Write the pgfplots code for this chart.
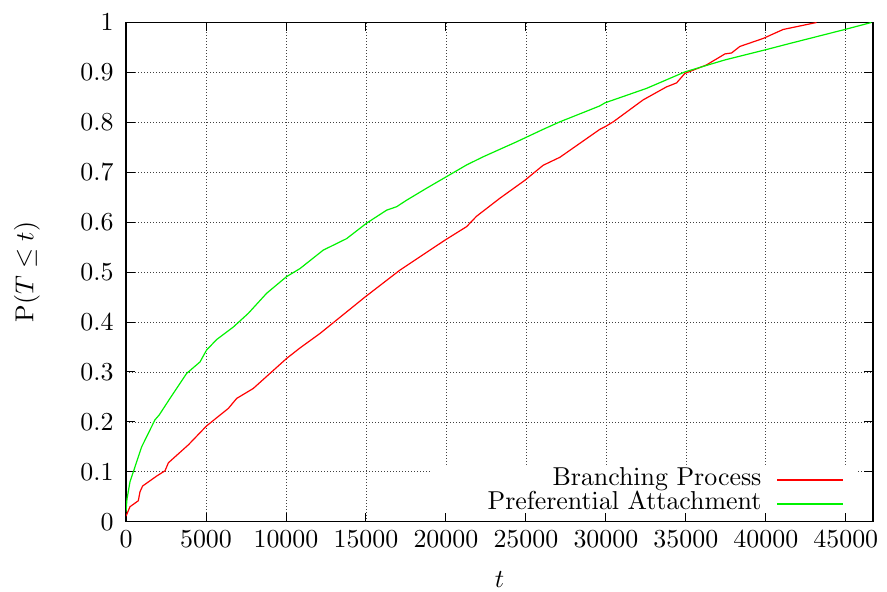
\documentclass[border=0pt]{standalone}
\DeclareFontShape{OT1}{cmr}{m}{n}{<->cmr10}{}
\DeclareFontShape{OML}{cmm}{m}{it}{<->cmmi10}{}
\DeclareFontShape{OMS}{cmsy}{m}{n}{<->cmsy10}{}
\usepackage{pgfplots}
\pgfplotsset{compat=1.18}
\pgfplotsset{
 layers/mylayers/.define layer set={axis background,axis grid,legendbg,axis ticks,axis lines,axis tick labels,pre main,main,axis descriptions,axis foreground}{
  grid style={/pgfplots/on layer=axis grid},
  tick style={/pgfplots/on layer=axis ticks},
  axis line style={/pgfplots/on layer=axis lines},
  label style={/pgfplots/on layer=axis descriptions},
  legend style={/pgfplots/on layer=axis descriptions},
  title style={/pgfplots/on layer=axis descriptions},
  ticklabel style={/pgfplots/on layer=axis tick labels},
  axis background@ style={/pgfplots/on layer=axis background},
 },
}
\newcommand{\cmfont}{\fontencoding{OT1}\fontfamily{cmr}\fontseries{m}\fontshape{n}\fontsize{26}{31}\selectfont}
\definecolor{gpred}{rgb}{1,0,0}
\definecolor{gpgreen}{rgb}{0,0.95,0}
\begin{document}
\begin{tikzpicture}
\begin{axis}[
 set layers=mylayers,
 scale only axis, width=747bp, height=499.2bp,
 at={(0,0)}, anchor=south west,
 xmin=0, xmax=46700, ymin=0, ymax=1,
 xtick={0,5000,10000,15000,20000,25000,30000,35000,40000,45000},
 ytick={0,0.1,0.2,0.3,0.4,0.5,0.6,0.7,0.8,0.9,1},
 scaled x ticks=false,
 xticklabel style={/pgf/number format/1000 sep={}, yshift=-5.5bp},
 yticklabel style={xshift=-9bp},
 tick label style={font=\cmfont},
 tick align=inside, major tick length=9bp,
 tick style={black, line width=0.9bp},
 axis line style={black, line width=1.2bp},
 grid=major,
 grid style={black!75, line width=0.7bp, dash pattern=on 0.7bp off 2.3bp},
 xlabel={$t$},
 ylabel={$\mathrm{P}(T\leq t)$},
 every axis x label/.style={at={(axis description cs:0.5,-0.1168)}, anchor=center, font=\cmfont},
 every axis y label/.style={at={(axis description cs:-0.1325,0.5)}, rotate=90, anchor=center, font=\cmfont},
 legend cell align=right,
 legend plot pos=right,
 legend style={at={(axis description cs:0.9612,0.011)}, anchor=south east,
   draw=none, fill=none, font=\cmfont,
   inner sep=0pt, row sep=0bp, /tikz/column sep=15bp,
   nodes={inner sep=0pt, text height=17bp, text depth=7bp}},
]
\addplot[fill=white, draw=none, on layer=legendbg, forget plot] coordinates {(19125,0) (45690,0) (45690,0.1136) (19125,0.1136) (19125,0)};
\addplot[gpred, line width=1.2bp, legend image code/.code={\draw[gpred, line width=1.2bp] (0bp,0bp) -- (66bp,0bp);}] coordinates {
(0,0.011) (250,0.03) (770,0.042) (875,0.06) (1040,0.0715) (1920,0.0915) (2440,0.102) (2650,0.118)
(3900,0.154) (5040,0.192) (6400,0.227) (6920,0.247) (7960,0.267) (10040,0.327) (10875,0.348)
(12125,0.377) (14940,0.450) (17125,0.504) (19940,0.564) (21290,0.591) (21920,0.612) (23375,0.648)
(24940,0.684) (26080,0.714) (27125,0.730) (29625,0.786) (29940,0.791) (30460,0.801) (32330,0.845)
(33790,0.871) (34420,0.879) (34940,0.898) (36290,0.915) (37440,0.937) (37860,0.939) (38375,0.952)
(39830,0.968) (41080,0.986) (43170,1.0)
};
\addlegendentry{Branching Process}
\addplot[gpgreen, line width=1.2bp, legend image code/.code={\draw[gpgreen, line width=1.2bp] (0bp,0bp) -- (66bp,0bp);}] coordinates {
(0,0.02) (60,0.045) (250,0.08) (460,0.1) (980,0.15) (1810,0.204) (2080,0.214) (2750,0.247)
(3790,0.297) (4625,0.320) (5040,0.344) (5670,0.365) (6710,0.390) (7650,0.4175) (8790,0.4575)
(10040,0.491) (10875,0.507) (12330,0.544) (13790,0.567) (15040,0.598) (16290,0.624) (16920,0.631)
(17540,0.644) (18790,0.668) (20670,0.703) (21290,0.7146) (22330,0.731) (24420,0.761) (26080,0.786)
(27125,0.801) (29625,0.833) (29940,0.839) (32540,0.868) (34940,0.901) (37440,0.925) (39940,0.945)
(41500,0.958) (44940,0.986) (46600,1.0)
};
\addlegendentry{Preferential Attachment}
\end{axis}
\path (-126bp,-70.3bp) rectangle (761bp,521.7bp);
\end{tikzpicture}
\end{document}
